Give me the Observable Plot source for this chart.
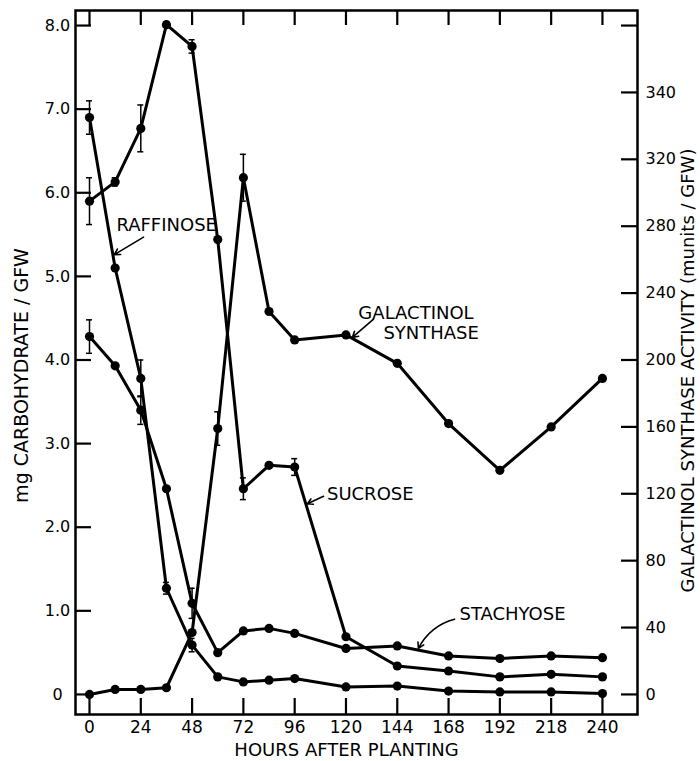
<!DOCTYPE html>
<html>
<head>
<meta charset="utf-8">
<script src="https://cdn.jsdelivr.net/npm/d3@7"></script>
<script src="https://cdn.jsdelivr.net/npm/@observablehq/plot@0.6"></script>
<style>
html, body { margin: 0; padding: 0; background: #fff; }
#chart svg { display: block; }
</style>
</head>
<body>
<div id="chart"></div>
<script>
// ---- data ----
const hours = [0, 12, 24, 36, 48, 60, 72, 84, 96, 120, 144, 168, 192, 216, 240];

// mg carbohydrate / GFW (left axis)
const sucrose   = [5.90, 6.13, 6.77, 8.01, 7.75, 5.44, 2.46, 2.74, 2.72, 0.69, 0.34, 0.28, 0.21, 0.24, 0.21];
const raffinose = [6.90, 5.10, 3.78, 1.27, 0.59, 0.21, 0.15, 0.17, 0.19, 0.09, 0.10, 0.04, 0.03, 0.03, 0.01];
const stachyose = [4.28, 3.93, 3.40, 2.46, 1.09, 0.50, 0.76, 0.79, 0.73, 0.55, 0.58, 0.46, 0.43, 0.46, 0.44];
// galactinol synthase activity, munits / GFW (right axis)
const galactinol = [0, 3, 3, 4, 37, 159, 309, 229, 212, 215, 198, 162, 134, 160, 189];

// error bar half-widths (0 = none drawn)
const sucroseErr    = [0.28, 0.05, 0.28, 0.03, 0.08, 0, 0.13, 0, 0.10, 0, 0, 0, 0, 0, 0];
const raffinoseErr  = [0.20, 0, 0.22, 0.07, 0.08, 0, 0, 0, 0, 0, 0, 0, 0, 0, 0];
const stachyoseErr  = [0.20, 0, 0.17, 0, 0.18, 0, 0, 0, 0, 0, 0, 0, 0, 0, 0];
const galactinolErr = [0, 0, 0, 0, 0, 10, 14, 0, 0, 0, 0, 0, 0, 0, 0];

// ticks and tick labels
const xTicks = [0, 24, 48, 72, 96, 120, 144, 168, 192, 216, 240];
const xTickLabels = ["0", "24", "48", "72", "96", "120", "144", "168", "192", "218", "240"];
const leftTicks = [0, 1, 2, 3, 4, 5, 6, 7, 8];
const leftTickLabels = ["0", "1.0", "2.0", "3.0", "4.0", "5.0", "6.0", "7.0", "8.0"];
const rightTicks = [0, 40, 80, 120, 160, 200, 240, 280, 320, 360, 400];
const rightTickLabels = ["0", "40", "80", "120", "160", "200", "240", "280", "320", "340", ""];

// text
const xTitle = "HOURS AFTER PLANTING";
const yLeftTitle = "mg CARBOHYDRATE / GFW";
const yRightTitle = "GALACTINOL SYNTHASE ACTIVITY (munits / GFW)";

// in-chart labels (data units: hours, mg/GFW)
const labels = [
  {text: "RAFFINOSE",  t: 12.6,  v: 5.61},
  {text: "GALACTINOL", t: 125.8, v: 4.56},
  {text: "SYNTHASE",   t: 137.5, v: 4.32},
  {text: "SUCROSE",    t: 111.1, v: 2.40},
  {text: "STACHYOSE",  t: 173.1, v: 0.96}
];
const pointers = [
  {t1: 25.3,  v1: 5.47, t2: 11.6,  v2: 5.26},
  {t1: 132.9, v1: 4.49, t2: 123.0, v2: 4.27},
  {t1: 109.5, v1: 2.37, t2: 102.0, v2: 2.28}
];
const curvedPointers = [
  {t1: 170.8, v1: 0.90, t2: 153.9, v2: 0.55}
];

// ---- layout ----
const W = 700, H = 761;
const mL = 75, mR = 63, mT = 10, mB = 47;
const innerW = W - mL - mR, innerH = H - mT - mB;
const RIGHT_PER_LEFT = 50; // 8.0 mg on left <-> 400 munits on right
const FONT = "DejaVu Sans";

const seriesDefs = [
  ["Sucrose", sucrose, sucroseErr, 1],
  ["Raffinose", raffinose, raffinoseErr, 1],
  ["Stachyose", stachyose, stachyoseErr, 1],
  ["Galactinol synthase", galactinol, galactinolErr, 1 / RIGHT_PER_LEFT]
];
const rows = [];
for (const [name, vals, errs, k] of seriesDefs) {
  vals.forEach((v, i) => rows.push({series: name, t: hours[i], v: v * k, e: errs[i] * k}));
}
const errRows = rows.filter(d => d.e > 0);
const CAP = 1.4;

const xLabelMap = new Map(xTicks.map((d, i) => [d, xTickLabels[i]]));
const leftLabelMap = new Map(leftTicks.map((d, i) => [d, leftTickLabels[i]]));
const rightPos = rightTicks.map(r => r / RIGHT_PER_LEFT);
const rightLabelMap = new Map(rightPos.map((d, i) => [d, rightTickLabels[i]]));

const chart = Plot.plot({
  width: W, height: H,
  marginLeft: mL, marginRight: mR, marginTop: mT, marginBottom: mB,
  style: {fontFamily: FONT, background: "#fff", color: "#000"},
  x: {domain: [-6.55, 256.4]},
  y: {domain: [-0.24, 8.18]},
  marks: [
    Plot.frame({stroke: "#000", strokeWidth: 2.5}),
    // inward ticks
    Plot.tickX(xTicks, {x: d => d, insetTop: innerH - 16, stroke: "#000", strokeWidth: 2.2}),
    Plot.tickX(xTicks, {x: d => d, insetBottom: innerH - 15, stroke: "#000", strokeWidth: 2.2}),
    Plot.tickY(leftTicks, {y: d => d, insetRight: innerW - 16, stroke: "#000", strokeWidth: 2.2}),
    Plot.tickY(rightPos, {y: d => d, insetLeft: innerW - 16, stroke: "#000", strokeWidth: 2.2}),
    // tick labels
    Plot.axisX({ticks: xTicks, tickFormat: d => xLabelMap.get(d), tickSize: 0, tickPadding: 6, fontSize: 17, label: null}),
    Plot.axisY({anchor: "left", ticks: leftTicks, tickFormat: d => leftLabelMap.get(d), tickSize: 0, tickPadding: 18, textAnchor: "middle", fontSize: 16, label: null}),
    Plot.axisY({anchor: "right", ticks: rightPos, tickFormat: d => rightLabelMap.get(d), tickSize: 0, tickPadding: 8, fontSize: 16, label: null}),
    // error bars
    Plot.ruleX(errRows, {x: "t", y1: d => d.v - d.e, y2: d => d.v + d.e, stroke: "#000", strokeWidth: 1.5}),
    Plot.ruleY(errRows, {y: d => d.v + d.e, x1: d => d.t - CAP, x2: d => d.t + CAP, stroke: "#000", strokeWidth: 1.5}),
    Plot.ruleY(errRows, {y: d => d.v - d.e, x1: d => d.t - CAP, x2: d => d.t + CAP, stroke: "#000", strokeWidth: 1.5}),
    // series
    Plot.line(rows, {x: "t", y: "v", z: "series", stroke: "#000", strokeWidth: 3}),
    Plot.dot(rows, {x: "t", y: "v", r: 4.6, fill: "#000"}),
    // annotations
    Plot.text(labels, {x: "t", y: "v", text: "text", textAnchor: "start", fontSize: 18, fill: "#000"}),
    Plot.arrow(pointers, {x1: "t1", y1: "v1", x2: "t2", y2: "v2", stroke: "#000", strokeWidth: 1.6, headLength: 6}),
    Plot.arrow(curvedPointers, {x1: "t1", y1: "v1", x2: "t2", y2: "v2", bend: -25, stroke: "#000", strokeWidth: 1.6, headLength: 6}),
    // axis titles
    Plot.text([yLeftTitle], {frameAnchor: "left", textAnchor: "middle", lineAnchor: "middle", dx: -54, dy: 13, rotate: -90, fontSize: 19, fill: "#000"}),
    Plot.text([yRightTitle], {frameAnchor: "right", textAnchor: "middle", lineAnchor: "middle", dx: 51, dy: 8, rotate: -90, fontSize: 18, fill: "#000"}),
    Plot.text([xTitle], {frameAnchor: "bottom", textAnchor: "middle", lineAnchor: "middle", dx: -10, dy: 36, fontSize: 18, fill: "#000"})
  ]
});
document.getElementById("chart").appendChild(chart);
</script>
</body>
</html>
